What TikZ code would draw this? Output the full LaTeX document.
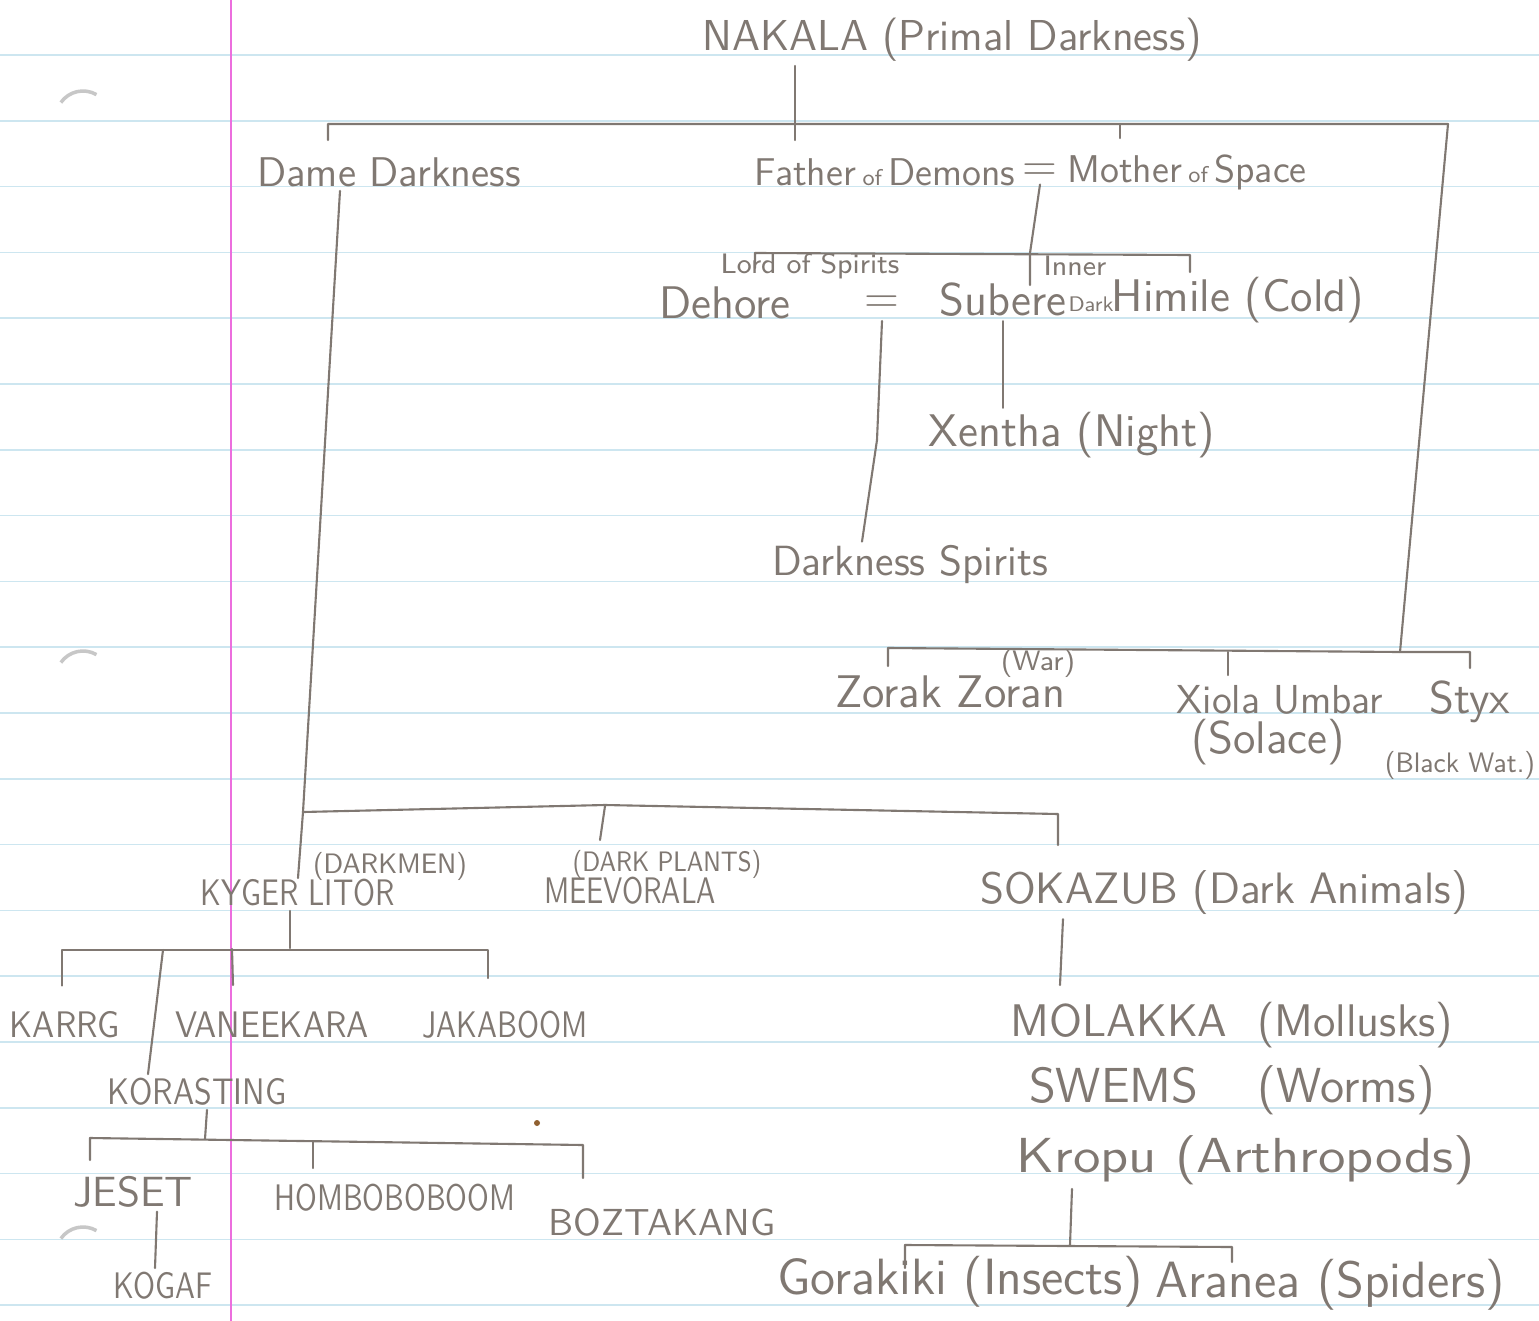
\documentclass[tikz,border=0pt]{standalone}
\usetikzlibrary{calc}
\definecolor{pencil}{RGB}{128,120,114}
\definecolor{ruleblue}{RGB}{205,230,240}
\definecolor{marginpink}{RGB}{236,110,222}
\newcommand{\squeeze}[2]{\scalebox{#1}[1]{#2}}

\begin{document}
\begin{tikzpicture}[x=0.01cm,y=-0.01cm,
every node/.style={text=pencil, font=\sffamily\fontsize{13}{15}\selectfont, inner sep=1pt},
hand/.style={font=\sffamily\fontsize{#1}{#1}\selectfont},
note/.style={font=\sffamily\fontsize{8}{9}\selectfont},
pen/.style={draw=pencil, line width=0.6pt, line cap=round, line join=round}]
\fill[white] (0,0) rectangle (1539,1321);
\useasboundingbox (0,0) rectangle (1539,1321);
% paper
\foreach \k in {0,...,19}
  \draw[ruleblue, line width=0.5pt] (0,{55+65.8*\k}) -- (1539,{55+65.8*\k});
\draw[marginpink, line width=0.8pt] (231,0) -- (231,1321);
\foreach \hy in {118,678,1254}
  \draw[black!22, line width=1pt] (83,\hy) ++(215:27) arc[start angle=215, end angle=300, radius=27];
\fill[brown!75!black] (537,1123) circle[radius=3];

\node[hand=12.3] (nakala) at (952,40) {NAKALA (Primal Darkness)};
\node[hand=11.8] (dame) at (389,172) {Dame Darkness};
\node[hand=11] (father) at (885,172) {Father\,{\fontsize{6.5}{7}\selectfont of}\,Demons};
\node (eqtop) at (1040,172) {=};
\node[hand=11] (mother) at (1187,172) {Mother\,{\fontsize{6.5}{7}\selectfont of}\,Space};
\node (dehore) at (725,303) {Dehore};
\node[note] (lord) at (810,266) {Lord of Spirits};
\node[inner sep=0pt, text height=1.1ex, text depth=0pt] (eqmid) at (882,304) {=};
\node (subere) at (1003,300) {Subere};
\node[note] (inner) at (1075,266) {Inner};
\node[hand=6] (dark) at (1091,304) {Dark};
\node (himile) at (1238,300) {Himile (Cold)};
\node (xentha) at (1072,435) {Xentha (Night)};
\node[hand=12] (spirits) at (910,565) {Darkness Spirits};
\node (zorak) at (950,692) {Zorak Zoran};
\node[note] (war) at (1038,663) {(War)};
\node[hand=11.5] (xiola) at (1280,700) {Xiola Umbar};
\node (solace) at (1268,742) {(Solace)};
\node (styx) at (1470,702) {Styx};
\node[hand=8] (blackwat) at (1460,765) {\squeeze{0.92}{(Black Wat.)}};

\node[hand=10.5] (kyger) at (298,893) {\squeeze{0.81}{KYGER LITOR}};
\node[hand=8] (darkmen) at (390,866) {\squeeze{0.91}{(DARKMEN)}};
\node[hand=10.5] (meevorala) at (630,891) {\squeeze{0.78}{MEEVORALA}};
\node[hand=8] (darkplants) at (667,864) {\squeeze{0.83}{(DARK PLANTS)}};
\node[hand=12.5] (sokazub) at (1224,893) {SOKAZUB (Dark Animals)};

\node[hand=10.5] (karrg) at (65,1025) {\squeeze{0.9}{KARRG}};
\node[hand=10.5] (vaneekara) at (272,1025) {\squeeze{0.9}{VANEEKARA}};
\node[hand=10.5] (jakaboom) at (505,1025) {\squeeze{0.81}{JAKABOOM}};
\node[hand=10.5] (korasting) at (197,1092) {\squeeze{0.86}{KORASTING}};
\node[hand=12] (jeset) at (133,1192) {JESET};
\node[hand=10.5] (hombo) at (395,1198) {\squeeze{0.8}{HOMBOBOBOOM}};
\node[hand=10.7] (boztakang) at (662,1222) {BOZTAKANG};
\node[hand=10.5] (kogaf) at (163,1286) {\squeeze{0.81}{KOGAF}};

\node (molakka) at (1232,1025) {MOLAKKA \ (Mollusks)};
\node[hand=14] (swems) at (1232,1090) {SWEMS\hspace{1.2em}(Worms)};
\node[hand=14] (kropu) at (1246,1160) {\squeeze{1.14}{Kropu (Arthropods)}};
\node[hand=14.5] (gorakiki) at (960,1282) {Gorakiki (Insects)};
\node[hand=14.5] (aranea) at (1330,1285) {Aranea (Spiders)};

% bar ends and tick ends
\coordinate (t1) at (328,124);
\coordinate (t2) at (1448,124);
\coordinate (f1) at (795,140);
\coordinate (m1) at (1120,138);
\coordinate (d1) at (328,140);
\coordinate (r1) at (1400,652);
\coordinate (z1) at (888,666);
\coordinate (s1) at (1470,668);
\coordinate (x1) at (1228,675);
\coordinate (q1) at (1030,253);
\coordinate (q2) at (1030,285);
\coordinate (h1) at (755,268);
\coordinate (h2) at (1190,272);
\coordinate (k1) at (298,878);
\coordinate (w1) at (303,812);
\coordinate (v1) at (600,840);
\coordinate (o1) at (1058,845);

\draw[pen] (nakala.south -| f1) -- (f1);
\draw[pen] (d1) -- (t1) -- (t2) -- (r1);
\draw[pen] (m1) -- (m1 |- t2);
\draw[pen] (z1) -- ++(0,-18) -- (r1) -- (1470,652) -- (s1);
\draw[pen] (x1) -- (x1 |- r1);
\draw[pen] (eqtop.south) -- (q1) -- (q2);
\draw[pen] (h1) -- ++(0,-15) -- (1190,255) -- (h2);
\draw[pen] (eqmid.south) ++(0,8) -- (877,440) -- (spirits.north -| 862,0);
\draw[pen] (subere.south) -- (xentha.north -| subere.south);
\draw[pen] ($(dame.south)+(-49,0)$) -- (w1) -- (k1);
\draw[pen] (w1) -- (605,805) -- (1058,814) -- (o1);
\draw[pen] (605,806) -- (v1);

\draw[pen] (kyger.south -| 290,0) -- (290,948);
\draw[pen] (karrg.north) ++(-3,-22) -- (62,950) -- (488,950) -- (488,978);
\draw[pen] (232,949) -- (233,985);
\draw[pen] (163,950) -- (korasting.north -| 148,0);
\draw[pen] (korasting.south -| 207,0) -- (205,1139);
\draw[pen] (90,1160) -- (90,1138) -- (583,1145) -- (583,1178);
\draw[pen] (313,1142) -- (313,1168);
\draw[pen] (jeset.south -| 157,0) -- (kogaf.north -| 155,0);
\draw[pen] (sokazub.south -| 1063,0) -- (1060,985);
\draw[pen] (kropu.south -| 1072,0) -- (1070,1245);
\draw[pen] (905,1268) -- (905,1245) -- (1232,1247) -- (1232,1262);
\end{tikzpicture}
\end{document}
